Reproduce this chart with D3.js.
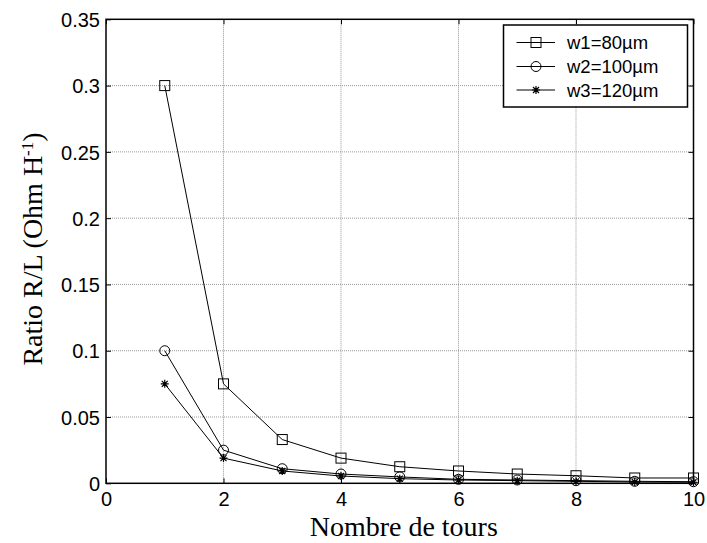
<!DOCTYPE html>
<html><head><meta charset="utf-8">
<script src="https://cdn.jsdelivr.net/npm/d3@7"></script>
<style>body{margin:0;background:#fff;}svg{display:block;}</style>
</head><body><svg id="c" width="707" height="543"></svg>
<script>
const turns = [1,2,3,4,5,6,7,8,9,10];
const w1 = [0.3,0.075,0.033,0.019,0.0125,0.0093,0.007,0.0057,0.004,0.004];
const w2 = [0.1,0.025,0.011,0.007,0.0048,0.003,0.0025,0.002,0.0015,0.0012];
const w3 = [0.075,0.019,0.0093,0.0055,0.0035,0.0025,0.002,0.0015,0.001,0.0008];
const seriesNames = ["w1=80µm","w2=100µm","w3=120µm"];
const seriesMarkers = ["square","circle","star"];
const xTicks = [0,2,4,6,8,10];
const yTicks = [0,0.05,0.1,0.15,0.2,0.25,0.3,0.35];

const svg = d3.select("#c");
const L=106, R=693.5, T=19.3, B=483.3;
const x = d3.scaleLinear().domain([0,10]).range([L,R]);
const y = d3.scaleLinear().domain([0,0.35]).range([B,T]);

// grid
const g = svg.append("g");
g.selectAll(".gx").data(xTicks.slice(1,-1)).join("line")
 .attr("x1",d=>x(d)).attr("x2",d=>x(d)).attr("y1",T).attr("y2",B)
 .attr("stroke","#999").attr("stroke-width",1).attr("stroke-dasharray","1,1");
g.selectAll(".gy").data(yTicks.slice(1,-1)).join("line")
 .attr("y1",d=>y(d)).attr("y2",d=>y(d)).attr("x1",L).attr("x2",R)
 .attr("stroke","#999").attr("stroke-width",1).attr("stroke-dasharray","1,1");

// axes
const fontT = "'Liberation Sans', Arial, sans-serif";
const ax = svg.append("g").attr("transform",`translate(0,${B})`)
 .call(d3.axisBottom(x).tickValues(xTicks).tickFormat(d3.format("d")).tickSizeInner(-5).tickSizeOuter(0).tickPadding(9));
const ay = svg.append("g").attr("transform",`translate(${L},0)`)
 .call(d3.axisLeft(y).tickValues(yTicks).tickFormat(d=>d===0?"0":String(+d.toFixed(2))).tickSizeInner(-5).tickSizeOuter(0).tickPadding(6));
// top/right ticks
svg.append("g").attr("transform",`translate(0,${T})`)
 .call(d3.axisTop(x).tickValues(xTicks).tickFormat("").tickSizeInner(-5).tickSizeOuter(0));
svg.append("g").attr("transform",`translate(${R},0)`)
 .call(d3.axisRight(y).tickValues(yTicks).tickFormat("").tickSizeInner(-5).tickSizeOuter(0));
svg.selectAll(".domain").remove();
svg.selectAll(".tick line").attr("stroke","#000");
[ax,ay].forEach(a=>a.selectAll("text").attr("font-family",fontT).attr("font-size",20).attr("fill","#000"));
ay.selectAll("text").attr("dy","0.36em");
svg.append("rect").attr("x",L).attr("y",T).attr("width",R-L).attr("height",B-T)
 .attr("fill","none").attr("stroke","#000").attr("stroke-width",1.5);

// series
const all = [w1,w2,w3];
const line = d3.line().x((d,i)=>x(turns[i])).y(d=>y(d));
function marker(sel,type,cx,cy){
  if(type==="square") sel.append("rect").attr("x",cx-5).attr("y",cy-5).attr("width",10).attr("height",10).attr("fill","none").attr("stroke","#000");
  else if(type==="circle") sel.append("circle").attr("cx",cx).attr("cy",cy).attr("r",5).attr("fill","none").attr("stroke","#000");
  else {
    const s=4;
    sel.append("path").attr("d",`M${cx-s},${cy}H${cx+s}M${cx},${cy-s}V${cy+s}M${cx-3},${cy-3}L${cx+3},${cy+3}M${cx-3},${cy+3}L${cx+3},${cy-3}`).attr("stroke","#000").attr("stroke-width",1.2);
  }
}
all.forEach((vals,k)=>{
  const sg = svg.append("g");
  sg.append("path").attr("d",line(vals)).attr("fill","none").attr("stroke","#000").attr("stroke-width",1);
  vals.forEach((v,i)=>marker(sg,seriesMarkers[k],x(turns[i]),y(v)));
});

// legend
const lg = svg.append("g");
lg.append("rect").attr("x",503.5).attr("y",25).attr("width",184).attr("height",82)
 .attr("fill","#fff").attr("stroke","#000").attr("stroke-width",1.5);
const rowsY=[42.5,66.5,90];
seriesNames.forEach((n,k)=>{
  lg.append("line").attr("x1",516.5).attr("x2",555).attr("y1",rowsY[k]).attr("y2",rowsY[k]).attr("stroke","#000");
  marker(lg,seriesMarkers[k],536,rowsY[k]);
  lg.append("text").attr("x",567).attr("y",rowsY[k]).attr("dy","0.36em")
   .attr("font-family",fontT).attr("font-size",18.5).text(n);
});

// titles
const fontS = "'Liberation Serif','Times New Roman',serif";
svg.append("text").attr("x",(L+R)/2+4).attr("y",536).attr("text-anchor","middle")
 .attr("font-family",fontS).attr("font-size",28).text("Nombre de tours");
const yt = svg.append("text").attr("transform",`translate(42,249) rotate(-90)`).attr("text-anchor","middle")
 .attr("font-family",fontS).attr("font-size",28);
yt.append("tspan").text("Ratio R/L (Ohm H");
yt.append("tspan").attr("baseline-shift","super").attr("font-size",17).text("-1");
yt.append("tspan").text(")");
</script></body></html>
